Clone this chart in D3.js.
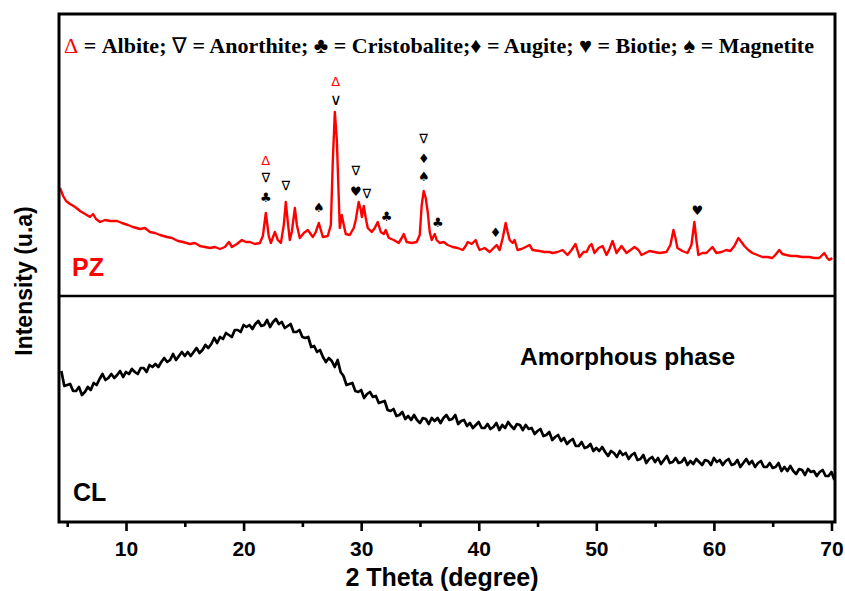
<!DOCTYPE html>
<html><head><meta charset="utf-8">
<script src="https://cdn.jsdelivr.net/npm/d3@7"></script>
<style>body{margin:0;background:#fff}</style></head>
<body>
<svg id="c" width="845" height="591"></svg>
<script>
// ---------- data ----------
const xTicksMajor = [10, 20, 30, 40, 50, 60, 70];
const xTicksMinor = [5, 15, 25, 35, 45, 55, 65];
const xLabel = "2 Theta (degree)";
const yLabel = "Intensity (u.a)";

// PZ pattern: [2theta, intensity (a.u.)]
const pzData = [[4.39,412],[4.65,404],[4.90,399],[5.24,396],[5.67,393],[6.09,389],[6.52,386],[6.94,383],[7.20,386],[7.45,381],[7.79,378],[8.22,380],[8.64,379],[9.24,379],[9.66,377],[10.17,375],[10.59,373],[11.19,371],[11.61,372],[12.04,368],[12.46,367],[12.89,365],[13.48,363],[13.91,362],[14.42,359],[14.84,358],[15.44,356],[15.86,357],[16.29,354],[16.71,353],[17.14,352],[17.56,353],[17.99,351],[18.41,353],[18.75,358],[19.01,353],[19.43,356],[19.86,360],[20.20,358],[20.54,358],[20.96,356],[21.38,357],[21.64,364],[21.89,387],[22.14,364],[22.32,357],[22.66,368],[22.91,360],[23.17,357],[23.42,375],[23.59,398],[23.76,378],[23.93,360],[24.10,368],[24.36,392],[24.53,375],[24.78,362],[25.12,367],[25.46,370],[25.89,363],[26.14,368],[26.40,377],[26.57,370],[26.74,363],[27.16,364],[27.42,375],[27.59,440],[27.76,488],[27.93,460],[28.10,400],[28.18,372],[28.35,385],[28.52,375],[28.69,366],[29.03,365],[29.37,372],[29.54,380],[29.79,398],[29.97,390],[30.06,383],[30.22,394],[30.39,382],[30.56,372],[30.90,368],[31.16,372],[31.41,378],[31.67,368],[31.92,366],[32.09,370],[32.35,362],[32.77,360],[33.19,357],[33.45,362],[33.62,366],[33.87,358],[34.30,357],[34.72,358],[34.98,365],[35.15,395],[35.32,409],[35.49,402],[35.66,388],[35.83,368],[36.00,360],[36.17,364],[36.26,366],[36.42,360],[36.68,357],[37.02,358],[37.36,355],[37.78,353],[38.21,352],[38.63,350],[38.89,354],[39.06,358],[39.40,356],[39.74,360],[39.91,354],[40.08,350],[40.50,352],[40.93,348],[41.27,352],[41.52,355],[41.78,350],[42.04,362],[42.29,377],[42.46,368],[42.63,360],[42.88,357],[43.05,360],[43.30,350],[43.64,351],[43.98,353],[44.32,355],[44.58,350],[45.17,349],[45.60,348],[46.02,348],[46.28,347],[46.70,348],[47.13,350],[47.55,345],[47.89,350],[48.23,356],[48.57,343],[48.91,348],[49.17,348],[49.42,354],[49.59,356],[49.85,347],[50.19,352],[50.53,354],[50.87,345],[51.12,351],[51.38,359],[51.72,347],[52.14,354],[52.57,347],[52.91,350],[53.25,353],[53.59,350],[53.84,345],[54.18,347],[54.52,349],[54.94,348],[55.37,347],[55.96,348],[56.30,355],[56.56,370],[56.73,362],[56.90,352],[57.32,349],[57.75,347],[58.09,355],[58.34,378],[58.51,360],[58.68,345],[59.02,347],[59.36,347],[59.62,350],[59.87,353],[60.21,347],[60.64,348],[61.06,350],[61.40,349],[61.74,354],[62.08,362],[62.34,358],[62.59,354],[62.93,350],[63.27,347],[63.70,345],[64.12,343],[64.55,343],[64.97,342],[65.22,345],[65.56,350],[65.82,346],[66.16,345],[66.58,344],[67.01,344],[67.52,343],[68.11,343],[68.54,342],[68.96,342],[69.22,345],[69.39,347],[69.64,342],[69.81,340],[70.07,342]];

// CL pattern: scan starts at 4.5 deg, step 0.25 deg
const clStart = 4.5, clStep = 0.25;
const clIntensity = [
229,214,215,216,209,209,213,205,208,213,210,217,215,221,226,220,
222,226,222,225,229,223,228,226,231,228,226,232,232,228,235,233,
236,233,238,242,238,240,246,240,244,248,244,248,244,248,252,247,
250,255,252,256,262,257,263,261,267,265,263,270,270,268,275,273,
275,271,276,279,274,275,280,273,278,281,276,278,272,274,276,268,
268,270,263,262,263,253,254,248,250,243,238,242,239,233,240,228,
224,215,216,217,209,208,210,202,206,208,203,204,197,198,199,190,
189,191,184,185,188,181,184,180,185,180,177,182,181,176,182,179,
182,177,182,185,180,181,185,176,179,180,174,177,172,175,178,172,
172,176,171,173,177,170,175,172,178,174,171,176,175,170,175,171,
172,166,169,171,164,165,168,160,163,165,159,162,156,159,161,154,
154,158,152,153,156,149,152,149,153,148,144,149,147,143,149,145,
147,141,145,147,140,141,145,137,141,143,138,142,136,140,144,137,
138,142,137,138,142,135,139,136,141,138,135,140,139,135,142,138,
140,135,139,141,135,136,140,133,137,141,136,139,133,137,139,133,
133,137,132,133,137,129,133,129,134,129,126,131,130,125,131,128,
129,124,128,130,124,124,128,120];

// peak markers: angle, intensity position, symbol, red?
const markerAngles = [21.89,21.89,21.89,23.59,26.40,27.84,27.84,29.54,29.54,30.48,32.17,35.32,35.32,35.32,36.51,41.44,58.60];
const markerLevels = [440,423,403,415,393,519,501,430,409,407,384,462,442,424,378,368,390];
const markerSymbols = ["Δ","∇","♣","∇","♠","Δ","∨","∇","♥","∇","♣","∇","♦","♠","♣","♦","♥"];
const markerRed =     [1,0,0,0,0,1,0,0,0,0,0,0,0,0,0,0,0];

const legendSymbols = ["Δ","∇","♣","♦","♥","♠"];
const legendNames = ["Albite","Anorthite","Cristobalite","Augite","Biotie","Magnetite"];

const panelDivider = 304;
const pzName = "PZ", clName = "CL", amorphText = "Amorphous phase";

// ---------- chart ----------
const svg = d3.select("#c");
const L = 59, R = 835, T = 14, B = 522;
const x = d3.scaleLinear().domain([4.3, 70.3]).range([L, R]);
const y = d3.scaleLinear().domain([78, 586]).range([B, T]);

svg.append("rect").attr("width",845).attr("height",591).attr("fill","#fff");

svg.append("clipPath").attr("id","clip").append("rect")
  .attr("x",L).attr("y",T).attr("width",R-L).attr("height",B-T);

const line = d3.line().x(d=>x(d[0])).y(d=>y(d[1]));

svg.append("path").datum(pzData).attr("d",line)
  .attr("fill","none").attr("stroke","#ff0000").attr("stroke-width",2.4)
  .attr("stroke-linejoin","round").attr("clip-path","url(#clip)");

const clData = clIntensity.map((v,i)=>[clStart + i*clStep, v]);
svg.append("path").datum(clData).attr("d",line)
  .attr("fill","none").attr("stroke","#000").attr("stroke-width",2.7)
  .attr("stroke-linejoin","round").attr("clip-path","url(#clip)");

// frame
svg.append("rect").attr("x",L).attr("y",T).attr("width",R-L).attr("height",B-T)
  .attr("fill","none").attr("stroke","#000").attr("stroke-width",3);
svg.append("line").attr("x1",L).attr("x2",R).attr("y1",y(panelDivider)).attr("y2",y(panelDivider))
  .attr("stroke","#000").attr("stroke-width",2.6);

// axes
const gMaj = svg.append("g").attr("transform",`translate(0,${B})`)
  .call(d3.axisBottom(x).tickValues(xTicksMajor).tickSize(9).tickSizeOuter(0).tickPadding(10));
gMaj.select(".domain").remove();
gMaj.selectAll(".tick line").attr("stroke-width",2.6);
gMaj.selectAll(".tick text").attr("font-family","Liberation Sans, Arial, sans-serif")
  .attr("font-weight","bold").attr("font-size",21).attr("fill","#000");
const gMin = svg.append("g").attr("transform",`translate(0,${B})`)
  .call(d3.axisBottom(x).tickValues(xTicksMinor).tickSize(5).tickSizeOuter(0).tickFormat(""));
gMin.select(".domain").remove();
gMin.selectAll(".tick line").attr("stroke-width",2.6);

svg.append("text").attr("x",442).attr("y",586).attr("text-anchor","middle")
  .attr("font-family","Liberation Sans, Arial, sans-serif").attr("font-weight","bold")
  .attr("font-size",25).text(xLabel);
svg.append("text").attr("transform","translate(32,281) rotate(-90)").attr("text-anchor","middle")
  .attr("font-family","Liberation Sans, Arial, sans-serif").attr("font-weight","bold")
  .attr("font-size",23).text(yLabel);

// labels
svg.append("text").attr("x",72).attr("y",276).attr("fill","#ff0000")
  .attr("font-family","Liberation Sans, Arial, sans-serif").attr("font-weight","bold")
  .attr("font-size",25).text(pzName);
svg.append("text").attr("x",73).attr("y",501).attr("fill","#000")
  .attr("font-family","Liberation Sans, Arial, sans-serif").attr("font-weight","bold")
  .attr("font-size",25).text(clName);
svg.append("text").attr("x",520).attr("y",365).attr("fill","#000")
  .attr("font-family","Liberation Sans, Arial, sans-serif").attr("font-weight","bold")
  .attr("font-size",24.5).text(amorphText);

// legend
const lg = svg.append("text").attr("x",64).attr("y",53)
  .attr("font-family","Liberation Serif, Times New Roman, serif").attr("font-weight","bold")
  .attr("font-size",22).attr("fill","#000");
legendSymbols.forEach((s,i)=>{
  lg.append("tspan").attr("fill", i===0 ? "#ff0000" : "#000").attr("font-weight","normal").text(s);
  lg.append("tspan").text(" = " + legendNames[i] + (i < legendSymbols.length-1 ? (i===2 ? ";" : "; ") : ""));
});

// markers
svg.append("g").selectAll("text").data(markerAngles).join("text")
  .attr("x",(d)=>x(d)).attr("y",(d,i)=>y(markerLevels[i]))
  .attr("text-anchor","middle").attr("dominant-baseline","central")
  .attr("font-family","DejaVu Sans, sans-serif")
  .attr("font-size",(d,i)=>markerSymbols[i]==="∨" ? 16 : 13)
  .attr("fill",(d,i)=>markerRed[i] ? "#ff0000" : "#000")
  .text((d,i)=>markerSymbols[i]);
</script>
</body></html>
